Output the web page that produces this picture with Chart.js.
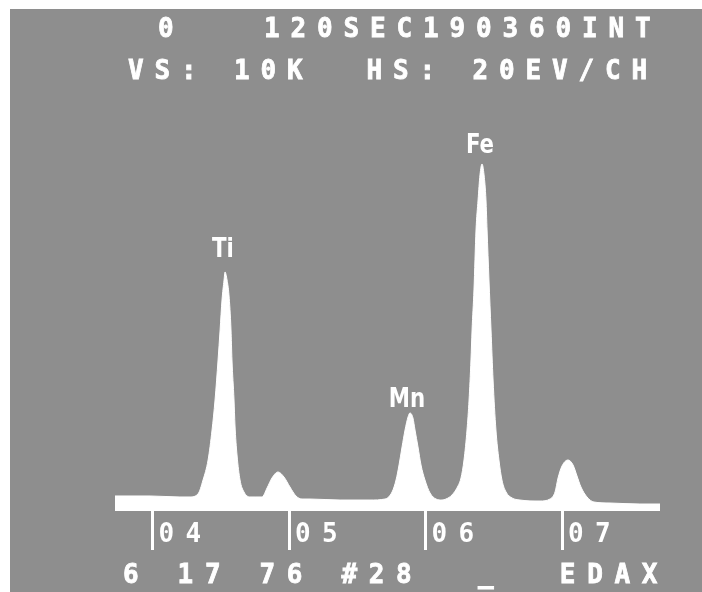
<!DOCTYPE html>
<html>
<head>
<meta charset="utf-8">
<script src="https://cdn.jsdelivr.net/npm/chart.js@4.4.1/dist/chart.umd.min.js"></script>
<style>
html,body{margin:0;padding:0;background:#ffffff;}
canvas{display:block;}
</style>
</head>
<body>
<canvas id="c" width="702" height="592"></canvas>
<script>
// Energy (keV) of each sampled point of the spectrum
const energyKeV = [
  3.725, 3.982, 4.201, 4.275, 4.333, 4.370, 4.407, 4.436, 4.458, 4.480,
  4.495, 4.509, 4.524, 4.531, 4.546, 4.560, 4.575, 4.582, 4.597, 4.604,
  4.619, 4.641, 4.670, 4.714, 4.758, 4.802, 4.839, 4.875, 4.919, 4.963,
  5.007, 5.051, 5.095, 5.154, 5.374, 5.593, 5.703, 5.755, 5.784, 5.806,
  5.828, 5.850, 5.872, 5.886, 5.908, 5.923, 5.945, 5.967, 5.996, 6.033,
  6.077, 6.121, 6.150, 6.194, 6.238, 6.260, 6.282, 6.304, 6.319, 6.333,
  6.341, 6.355, 6.370, 6.385, 6.399, 6.414, 6.429, 6.443, 6.451, 6.465,
  6.480, 6.495, 6.516, 6.538, 6.560, 6.590, 6.634, 6.692, 6.839, 6.912,
  6.949, 6.971, 7.000, 7.044, 7.081, 7.110, 7.139, 7.183, 7.234, 7.352,
  7.571, 7.718
];
// Counts at each energy (vertical full scale 10K)
const counts = [
  361, 361, 337, 337, 409, 745, 1226, 1947, 2668, 3630,
  4351, 5072, 5553, 5746, 5553, 5193, 4351, 3630, 2668, 2067,
  1346, 745, 457, 337, 337, 337, 553, 793, 938, 817,
  577, 361, 288, 288, 264, 264, 288, 457, 745, 1106,
  1539, 1947, 2260, 2356, 2236, 1947, 1539, 1106, 745, 433,
  288, 264, 288, 385, 601, 793, 1226, 1947, 2668, 3630,
  4351, 5313, 6755, 7476, 8077, 8342, 8077, 7476, 6755, 5553,
  4351, 3149, 1947, 1226, 745, 457, 313, 264, 240, 288,
  457, 793, 1082, 1226, 1106, 841, 577, 337, 216, 192,
  168, 168
];
const xMinKeV = 3.725;
const xMaxKeV = 7.718;
const fullScale = 10000;
const tickValues = [4, 5, 6, 7];
const tickLabels = ['04', '05', '06', '07'];
const peakNames = ['Ti', 'Mn', 'Fe'];
const peakLabelKeV = [4.516, 5.864, 6.399];
const peakLabelCounts = [6106, 2500, 8606];
const headerLines = ['0   120SEC190360INT', 'VS: 10K  HS: 20EV/CH'];
const footerLine = '6 17 76 #28  _  EDAX';

const points = energyKeV.map((e, i) => ({ x: e, y: counts[i] }));

const screenPlugin = {
  id: 'screen',
  beforeDraw(chart) {
    const ctx = chart.ctx;
    ctx.save();
    ctx.fillStyle = '#ffffff';
    ctx.fillRect(0, 0, chart.width, chart.height);
    ctx.fillStyle = '#8e8e8e';
    ctx.fillRect(10, 9, chart.width - 10, chart.height - 9);
    ctx.restore();
    ctx.letterSpacing = '11.35px';
  },
  afterDatasetsDraw(chart) {
    const ctx = chart.ctx;
    const xs = chart.scales.x, ys = chart.scales.y;
    ctx.save();
    ctx.letterSpacing = '0px';
    ctx.fillStyle = '#ffffff';
    ctx.font = 'bold 26px "DejaVu Sans"';
    ctx.textAlign = 'center';
    ctx.textBaseline = 'alphabetic';
    peakNames.forEach((n, i) => {
      const px = xs.getPixelForValue(peakLabelKeV[i]);
      const py = ys.getPixelForValue(peakLabelCounts[i]);
      ctx.save();
      ctx.translate(px, py);
      ctx.scale(0.82, 1.05);
      ctx.fillText(n, 0, 0);
      ctx.restore();
    });
    ctx.restore();
  },
  afterDraw(chart) {
    const ctx = chart.ctx;
    ctx.save();
    ctx.fillStyle = '#ffffff';
    ctx.strokeStyle = '#ffffff';
    ctx.lineWidth = 0.8;
    ctx.font = 'bold 26px "DejaVu Sans Mono"';
    ctx.textAlign = 'left';
    ctx.textBaseline = 'alphabetic';
    ctx.letterSpacing = '10.85px';
    ctx.fillText(headerLines[0], 158, 37);
    ctx.strokeText(headerLines[0], 158, 37);
    ctx.fillText(headerLines[1], 128, 79);
    ctx.strokeText(headerLines[1], 128, 79);
    ctx.letterSpacing = '11.65px';
    ctx.fillText(footerLine, 123, 583);
    ctx.strokeText(footerLine, 123, 583);
    ctx.restore();
  }
};

new Chart(document.getElementById('c'), {
  type: 'line',
  data: {
    datasets: [{
      label: 'EDAX spectrum',
      data: points,
      borderColor: '#ffffff',
      backgroundColor: '#ffffff',
      borderWidth: 1,
      pointRadius: 0,
      fill: 'origin',
      cubicInterpolationMode: 'monotone'
    }]
  },
  options: {
    responsive: false,
    animation: false,
    layout: { padding: { top: 95, left: 115, right: 42, bottom: 0 } },
    plugins: { legend: { display: false }, tooltip: { enabled: false }, title: { display: false } },
    scales: {
      x: {
        type: 'linear',
        min: xMinKeV,
        max: xMaxKeV,
        afterBuildTicks(scale) { scale.ticks = tickValues.map(v => ({ value: v })); },
        afterFit(scale) { scale.height = 81; },
        border: { display: false },
        grid: {
          drawOnChartArea: false,
          drawTicks: true,
          tickLength: 39,
          tickWidth: 3,
          tickColor: '#ffffff'
        },
        ticks: {
          autoSkip: false,
          maxRotation: 0,
          minRotation: 0,
          align: 'start',
          labelOffset: 6,
          padding: -28,
          color: '#ffffff',
          font: { family: 'DejaVu Sans Mono', size: 26, weight: 'bold', lineHeight: 1 },
          callback(value) {
            const i = tickValues.indexOf(value);
            return i >= 0 ? tickLabels[i] : '';
          }
        }
      },
      y: {
        display: false,
        min: 0,
        max: fullScale
      }
    }
  },
  plugins: [screenPlugin]
});
</script>
</body>
</html>
